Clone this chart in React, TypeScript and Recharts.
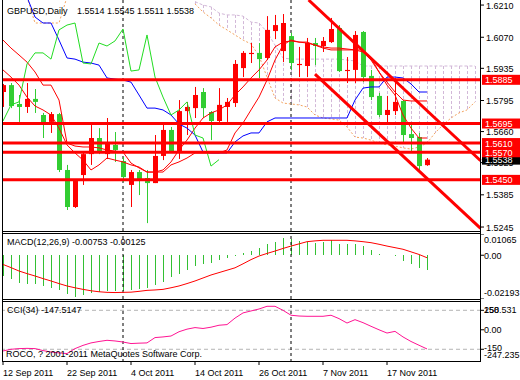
import React from 'react';
import { ComposedChart, Bar, Line, XAxis, YAxis, ReferenceLine } from 'recharts';

const FONT = "'Liberation Sans', Arial, sans-serif";
const RED = '#ff0000';
const GREEN = '#32cd32';
const LIME = '#22dd22';
const BLUE = '#0000ff';
const THISTLE = '#d2b8d8';
const SANDY = '#f4a460';
const MACD_GREEN = '#33c033';
const PINK = '#ff1493';

// daily bars, 12 Sep 2011 .. 24 Nov 2011
const opens = [1.5832, 1.5862, 1.578, 1.5767, 1.5802, 1.5732, 1.5702, 1.5736, 1.5493, 1.5332, 1.5471, 1.5562, 1.5632, 1.5562, 1.5602, 1.5532, 1.5428, 1.5484, 1.5458, 1.5436, 1.5554, 1.5667, 1.5567, 1.5749, 1.5762, 1.5832, 1.5745, 1.5706, 1.5767, 1.5784, 1.5936, 1.5997, 1.6002, 1.598, 1.6097, 1.601, 1.6075, 1.5949, 1.5945, 1.6045, 1.6032, 1.6049, 1.611, 1.5923, 1.5928, 1.6093, 1.5902, 1.5815, 1.5732, 1.5749, 1.5793, 1.5649, 1.5636, 1.5514];
const highs = [1.5867, 1.5871, 1.5819, 1.5871, 1.5845, 1.5741, 1.5745, 1.5741, 1.5515, 1.5449, 1.5571, 1.5697, 1.5675, 1.5719, 1.5658, 1.5549, 1.5493, 1.5493, 1.5493, 1.5645, 1.5689, 1.568, 1.5797, 1.5788, 1.5854, 1.5849, 1.5749, 1.5849, 1.5806, 1.5971, 1.601, 1.6045, 1.6045, 1.6162, 1.6167, 1.6171, 1.6089, 1.6028, 1.6067, 1.6067, 1.6071, 1.6154, 1.6123, 1.5984, 1.6097, 1.6097, 1.5928, 1.5828, 1.5815, 1.5893, 1.5797, 1.5689, 1.5654, 1.5545];
const lows = [1.5767, 1.5762, 1.5702, 1.5741, 1.5741, 1.5632, 1.5654, 1.5484, 1.5319, 1.5328, 1.5428, 1.5515, 1.5562, 1.5541, 1.5528, 1.5441, 1.5332, 1.5384, 1.5262, 1.5436, 1.5536, 1.5567, 1.5541, 1.5645, 1.5719, 1.5719, 1.5623, 1.5697, 1.5702, 1.5767, 1.5897, 1.5958, 1.5893, 1.5971, 1.6062, 1.5962, 1.5928, 1.5897, 1.5897, 1.5949, 1.6006, 1.6045, 1.5919, 1.5871, 1.5871, 1.5875, 1.5797, 1.5723, 1.5697, 1.5732, 1.561, 1.5571, 1.5484, 1.5511];
const closes = [1.5862, 1.5771, 1.5767, 1.5802, 1.5789, 1.5697, 1.5736, 1.5493, 1.5332, 1.5445, 1.5562, 1.5632, 1.5567, 1.561, 1.558, 1.5462, 1.5484, 1.5449, 1.5436, 1.5554, 1.5667, 1.5567, 1.5749, 1.5767, 1.5819, 1.5762, 1.5706, 1.5776, 1.5789, 1.5954, 1.6002, 1.6002, 1.5975, 1.6102, 1.6123, 1.6132, 1.5958, 1.5954, 1.6045, 1.6032, 1.6054, 1.6106, 1.5923, 1.5928, 1.608, 1.5897, 1.581, 1.5732, 1.5754, 1.5789, 1.5645, 1.5632, 1.551, 1.5538];

// indicator lines
const tenkan = [1.6058, 1.6023, 1.5993, 1.5962, 1.5919, 1.5862, 1.5862, 1.5797, 1.561, 1.5597, 1.5593, 1.5593, 1.5589, 1.558, 1.5575, 1.5571, 1.5523, 1.5502, 1.5484, 1.5484, 1.5484, 1.5515, 1.5528, 1.5545, 1.5567, 1.5567, 1.5567, 1.5567, 1.558, 1.5654, 1.5697, 1.5754, 1.581, 1.5884, 1.5971, 1.6036, 1.6058, 1.6049, 1.6049, 1.6036, 1.6023, 1.6015, 1.6015, 1.6015, 1.6015, 1.6006, 1.5971, 1.5919, 1.5862, 1.5819, 1.5732, 1.5675, 1.5632, 1.5632];
const redLine2 = [1.5928, 1.5897, 1.5862, 1.581, 1.5771, 1.5754, 1.5732, 1.5675, 1.5602, 1.5567, 1.5536, 1.5493, 1.5515, 1.5545, 1.5536, 1.5528, 1.5515, 1.5506, 1.5484, 1.5484, 1.5493, 1.5528, 1.558, 1.5623, 1.5675, 1.5719, 1.5741, 1.5754, 1.5776, 1.5819, 1.5854, 1.5893, 1.5928, 1.5971, 1.6028, 1.6049, 1.6054, 1.6049, 1.6045, 1.6036, 1.6028, 1.6023, 1.6023, 1.6019, 1.6015, 1.6015, 1.598, 1.5919, 1.5875, 1.5832, 1.5797, 1.5793, 1.5793, 1.5793];
const kijun = [null, null, null, 1.6245, 1.6158, 1.6132, 1.6132, 1.6058, 1.598, 1.5975, 1.5962, 1.5958, 1.5949, 1.5893, 1.5888, 1.5884, 1.5875, 1.5819, 1.5762, 1.5762, 1.5754, 1.5732, 1.5693, 1.5675, 1.5645, 1.5571, 1.5567, 1.5567, 1.5567, 1.5615, 1.5641, 1.5654, 1.5654, 1.5702, 1.5719, 1.5719, 1.5719, 1.5719, 1.5719, 1.5719, 1.5719, 1.5719, 1.5719, 1.5719, 1.5797, 1.5849, 1.5854, 1.5854, 1.5897, 1.5897, 1.5893, 1.5867, 1.5832, 1.5832];
const chikou = [1.5706, 1.5776, 1.5789, 1.5954, 1.6002, 1.6002, 1.5975, 1.6102, 1.6123, 1.6132, 1.5958, 1.5954, 1.6045, 1.6032, 1.6054, 1.6106, 1.5923, 1.5928, 1.608, 1.5897, 1.581, 1.5732, 1.5754, 1.5789, 1.5645, 1.5632, 1.551, 1.5538];
const senkouA = [null, null, null, 1.6245, 1.6132, 1.6132, 1.6132, 1.6132, 1.6245, null, null, null, null, null, null, null, null, null, null, null, null, null, null, null, 1.6215, 1.618, 1.6154, 1.6123, 1.6102, 1.608, 1.6058, 1.6041, 1.5989, 1.5897, 1.5806, 1.5784, 1.578, 1.5776, 1.5767, 1.5732, 1.5719, 1.5715, 1.571, 1.568, 1.5636, 1.5632, 1.5623, 1.561, 1.5602, 1.5597, 1.5589, 1.5584, 1.5593, 1.561, 1.5654, 1.5689, 1.5719, 1.5741, 1.5754, 1.5789];
const senkouB = [null, null, null, null, null, null, null, null, null, null, null, null, null, null, null, null, null, null, null, null, null, null, null, null, 1.6225, 1.621, 1.6202, 1.6175, 1.6167, 1.6167, 1.6162, 1.6136, 1.6132, 1.6093, 1.6036, 1.598, 1.5975, 1.5975, 1.5975, 1.5975, 1.5975, 1.5975, 1.5975, 1.5971, 1.5967, 1.5945, 1.5945, 1.5945, 1.5945, 1.5945, 1.5945, 1.5945, 1.5945, 1.5945, 1.5945, 1.5945, 1.5945, 1.5945, 1.5945, 1.5945];

const macd = [-0.0104, -0.0121, -0.0138, -0.0143, -0.0146, -0.0154, -0.0163, -0.0176, -0.0196, -0.021, -0.0199, -0.0188, -0.0183, -0.018, -0.018, -0.018, -0.0176, -0.0171, -0.0163, -0.0149, -0.0134, -0.0109, -0.0096, -0.0076, -0.0054, -0.0046, -0.0037, -0.0026, -0.0012, -0.0003, 0.0013, 0.0021, 0.0038, 0.0058, 0.0068, 0.0085, 0.008, 0.0071, 0.0068, 0.0063, 0.0068, 0.0075, 0.0058, 0.0055, 0.0055, 0.0046, 0.0025, 0.0008, 0.0, -0.0006, -0.0029, -0.0046, -0.0063, -0.00753];
const macdSignal = [-0.0046, -0.0062, -0.0079, -0.0092, -0.0104, -0.0117, -0.0129, -0.0142, -0.0154, -0.0163, -0.0171, -0.0178, -0.0183, -0.0186, -0.0187, -0.0186, -0.0185, -0.0181, -0.0176, -0.0174, -0.0171, -0.0163, -0.0154, -0.0142, -0.0129, -0.0114, -0.0099, -0.0087, -0.0075, -0.0063, -0.0043, -0.0022, -0.0004, 0.0009, 0.0021, 0.0034, 0.0046, 0.0057, 0.0068, 0.0072, 0.0075, 0.0075, 0.0075, 0.0075, 0.0072, 0.0068, 0.0063, 0.0055, 0.0046, 0.0038, 0.003, 0.0017, 0.0004, -0.00125];
const cci = [-163, -150, -145, -143, -145, -160, -171, -178, -183, -145, -120, -101, -90, -81, -86, -94, -106, -103, -101, -60, -55, -48, -15, 5, 17, 10, 20, 35, 40, 90, 130, 145, 160, 181, 181, 150, 112, 106, 104, 104, 104, 112, 86, 52, 78, 55, 27, 0, -25, -12, -55, -90, -119, -147.5147];

const dateTicks = [0, 8, 16, 24, 32, 40, 48];
const dateLabels = ['12 Sep 2011', '22 Sep 2011', '4 Oct 2011', '14 Oct 2011', '26 Oct 2011', '7 Nov 2011', '17 Nov 2011'];
const priceTicks = [1.621, 1.607, 1.5935, 1.5795, 1.566, 1.5525, 1.5385, 1.5245];
const levels = [1.5885, 1.5695, 1.561, 1.557, 1.545];
const channel = [
  [{ x: 38.2, y: 1.6232 }, { x: 59.7, y: 1.5533 }],
  [{ x: 39, y: 1.591 }, { x: 59.7, y: 1.5239 }],
];
const separators = [15, 36];
const macdTicks = [0.01065, 0, -0.02193];
const cciLevels = [150, -150];
const cciMax = '258.531';
const cciMin = '-247.235';

const xDomain = [-0.125, 59.75];
const priceDomain = [1.52277, 1.6232];
const macdDomain = [-0.02193, 0.01065];
const cciDomain = [-248, 214];

const rows = Array.from({ length: 60 }, (_, k) => {
  const a = senkouA[k];
  const b = senkouB[k];
  return {
    k,
    open: opens[k] ?? null,
    close: closes[k] ?? null,
    high: highs[k] ?? null,
    low: lows[k] ?? null,
    candle: k < opens.length ? [lows[k], highs[k]] : null,
    tenkan: tenkan[k] ?? null,
    red2: redLine2[k] ?? null,
    kijun: kijun[k] ?? null,
    chikou: chikou[k] ?? null,
    senkouA: a ?? null,
    senkouB: b ?? null,
    cloud: a != null && b != null ? [Math.min(a, b), Math.max(a, b)] : null,
    macd: macd[k] ?? null,
    signal: macdSignal[k] ?? null,
    cci: cci[k] ?? null,
  };
});

const Candle = (props: any) => {
  const { x, y, width, height, payload } = props;
  if (!payload || payload.candle == null) return null;
  const { open, close, high, low } = payload;
  const top = Math.min(y, y + height);
  const h = Math.abs(height);
  const span = high - low || 1e-9;
  const py = (v: number) => top + ((high - v) / span) * h;
  const cx = Math.round(x + width / 2);
  const color = close >= open ? RED : GREEN;
  const bTop = py(Math.max(open, close));
  const bBot = py(Math.min(open, close));
  return (
    <g>
      <rect x={cx} y={top} width={1} height={Math.max(1, h)} fill={color} />
      <rect x={cx - 2} y={bTop} width={5} height={Math.max(1, bBot - bTop)} fill={color} />
    </g>
  );
};

const Hatch = (props: any) => {
  const { x, y, width, height, payload } = props;
  if (!payload || payload.cloud == null) return null;
  const cx = Math.round(x + width / 2) + 0.5;
  const top = Math.min(y, y + height);
  return <line x1={cx} x2={cx} y1={top} y2={top + Math.abs(height)} stroke={THISTLE} strokeDasharray="3 2" />;
};

const Stick = (props: any) => {
  const { x, y, width, height, payload } = props;
  if (!payload || payload.macd == null || Math.abs(height) < 0.5) return null;
  const cx = Math.round(x + width / 2);
  return (
    <rect x={cx} y={Math.min(y, y + height)} width={1} height={Math.abs(height)} fill={MACD_GREEN} shapeRendering="crispEdges" />
  );
};

const txt = { fontFamily: FONT, fontSize: 9 };

const PriceTick = (props: any) => (
  <text x={props.x} y={props.y + 3.5} fill="#000" {...txt}>{Number(props.payload.value).toFixed(4)}</text>
);

const MacdTick = (props: any) => {
  const v = Number(props.payload.value);
  const dy = v > 0 ? 9 : v < 0 ? -3 : 3.5;
  return <text x={props.x - 2} y={props.y + dy} fill="#000" {...txt}>{v === 0 ? '0.00' : v.toFixed(5)}</text>;
};

const CciTick = (props: any) => {
  const v = Number(props.payload.value);
  const x = props.x - 2;
  if (v > 0) {
    return (
      <g>
        <text x={x} y={props.y + 3} fill="#000" {...txt}>{cciMax}</text>
        <text x={x} y={props.y + 3} fill="#000" {...txt}>{v}</text>
      </g>
    );
  }
  if (v < 0) {
    return (
      <g>
        <text x={x} y={props.y + 1.5} fill="#000" {...txt}>{v}</text>
        <text x={x} y={props.y + 8.5} fill="#000" {...txt}>{cciMin}</text>
      </g>
    );
  }
  return <text x={x} y={props.y + 3} fill="#000" {...txt}>0.00</text>;
};

const DateTick = (props: any) => {
  const i = dateTicks.indexOf(Number(props.payload.value));
  return <text x={props.x} y={props.y + 9} fill="#000" textAnchor="start" {...txt}>{dateLabels[i]}</text>;
};

const tag = (value: number, bg: string) => (p: any) => {
  const vb = p.viewBox || {};
  const right = vb.x + vb.width;
  return (
    <g>
      <rect x={right + 1} y={vb.y - 5} width={38} height={10} fill={bg} />
      <text x={right + 4} y={vb.y + 3.5} fill="#fff" {...txt}>{value.toFixed(4)}</text>
    </g>
  );
};

const layer = (top: number, height: number, chart: React.ReactNode) => (
  <div style={{ position: 'absolute', left: 0, top, width: 520, height }}>{chart}</div>
);

function priceChart(showTicks: boolean, items: React.ReactNode[]) {
  return (
    <ComposedChart width={520} height={234} data={rows} margin={{ top: 0, right: 0, bottom: 3, left: 2 }}>
      <XAxis dataKey="k" type="number" domain={xDomain} allowDataOverflow hide />
      <YAxis
        orientation="right"
        width={39}
        domain={priceDomain}
        allowDataOverflow
        ticks={priceTicks}
        interval={0}
        tick={showTicks ? <PriceTick /> : false}
        tickLine={showTicks ? { stroke: '#000' } : false}
        tickSize={3}
        tickMargin={2}
        axisLine={false}
      />
      {items}
    </ComposedChart>
  );
}

export default function App() {
  const label = (left: number, top: number, s: string) => (
    <div style={{ position: 'absolute', left, top, fontFamily: FONT, fontSize: 9, lineHeight: '10px', whiteSpace: 'pre', color: '#000' }}>{s}</div>
  );
  const last = opens.length - 1;

  const cloudLayer = [
    ...separators.map((s) => <ReferenceLine key={'s' + s} x={s} stroke="#000" strokeDasharray="3 3" />),
    <Bar key="hatch" dataKey="cloud" barSize={5} shape={<Hatch />} isAnimationActive={false} />,
    <Line key="sa" dataKey="senkouA" stroke={SANDY} strokeDasharray="2 2" dot={false} isAnimationActive={false} />,
    <Line key="sb" dataKey="senkouB" stroke={THISTLE} strokeDasharray="3 2" dot={false} isAnimationActive={false} />,
  ];
  const candleLayer = [<Bar key="c" dataKey="candle" barSize={5} shape={<Candle />} isAnimationActive={false} />];
  const lineLayer = [
    <Line key="t" dataKey="tenkan" stroke={RED} dot={false} isAnimationActive={false} />,
    <Line key="r2" dataKey="red2" stroke={RED} dot={false} isAnimationActive={false} />,
    <Line key="kj" dataKey="kijun" stroke={BLUE} dot={false} isAnimationActive={false} />,
    <Line key="ch" dataKey="chikou" stroke={LIME} dot={false} isAnimationActive={false} />,
    ...channel.map((seg, i) => <ReferenceLine key={'ch' + i} segment={seg} stroke={RED} strokeWidth={3} />),
    <ReferenceLine key="last" y={closes[last]} stroke="none" label={tag(closes[last], '#000')} />,
    ...levels.map((l) => <ReferenceLine key={'l' + l} y={l} stroke={RED} strokeWidth={3} label={tag(l, RED)} />),
  ];

  return (
    <div style={{ position: 'absolute', left: 0, top: 0, width: 520, height: 380, background: '#fff', overflow: 'hidden' }}>
      {layer(0, 234, priceChart(true, cloudLayer))}
      {layer(0, 234, priceChart(false, candleLayer))}
      {layer(0, 234, priceChart(false, lineLayer))}

      {layer(234, 65,
        <ComposedChart width={520} height={65} data={rows} margin={{ top: 0, right: 0, bottom: 0, left: 2 }}>
          <XAxis dataKey="k" type="number" domain={xDomain} allowDataOverflow hide />
          <YAxis orientation="right" width={39} domain={macdDomain} allowDataOverflow ticks={macdTicks} interval={0}
            tick={<MacdTick />} tickLine={{ stroke: '#000' }} tickSize={3} tickMargin={2} axisLine={false} />
          {separators.map((s) => <ReferenceLine key={s} x={s} stroke="#000" strokeDasharray="3 3" />)}
          <Bar dataKey="macd" barSize={1} fill={MACD_GREEN} shape={<Stick />} isAnimationActive={false} />
          <Line dataKey="signal" stroke={RED} dot={false} isAnimationActive={false} />
        </ComposedChart>
      )}

      {layer(302, 78,
        <ComposedChart width={520} height={78} data={rows} margin={{ top: 0, right: 0, bottom: 0, left: 2 }}>
          <XAxis dataKey="k" type="number" domain={xDomain} allowDataOverflow ticks={dateTicks} interval={0}
            tick={<DateTick />} tickLine={{ stroke: '#000' }} tickSize={3} tickMargin={2} axisLine={false} height={18} />
          <YAxis orientation="right" width={39} domain={cciDomain} allowDataOverflow ticks={[150, 0, -150]} interval={0}
            tick={<CciTick />} tickLine={{ stroke: '#000' }} tickSize={3} tickMargin={2} axisLine={false} />
          {cciLevels.map((l) => <ReferenceLine key={l} y={l} stroke="#b4b4b4" strokeDasharray="4 3" />)}
          {separators.map((s) => <ReferenceLine key={'s' + s} x={s} stroke="#000" strokeDasharray="3 3" />)}
          <Line dataKey="cci" stroke={PINK} dot={false} isAnimationActive={false} />
        </ComposedChart>
      )}

      <svg width={520} height={380} style={{ position: 'absolute', left: 0, top: 0, pointerEvents: 'none' }}>
        <g stroke="#000" strokeWidth={1} shapeRendering="crispEdges">
          <line x1={2.5} x2={2.5} y1={0} y2={362} />
          <line x1={480.5} x2={480.5} y1={0} y2={362} />
          {[231.5, 233.5, 299.5, 301.5, 361.5].map((y) => <line key={y} x1={2} x2={481} y1={y} y2={y} />)}
        </g>
      </svg>

      {label(7, 6, 'GBPUSD,Daily')}
      {label(77, 6, [opens[last], highs[last], lows[last], closes[last]].map((v) => v.toFixed(4)).join(' '))}
      {label(7, 237, `MACD(12,26,9) ${macd[last].toFixed(5)} ${macdSignal[last].toFixed(5)}`)}
      {label(7, 305, `CCI(34) ${cci[last].toFixed(4)}`)}
      {label(6, 349, 'ROCO, ? 2001-2011 MetaQuotes Software Corp.')}
    </div>
  );
}
